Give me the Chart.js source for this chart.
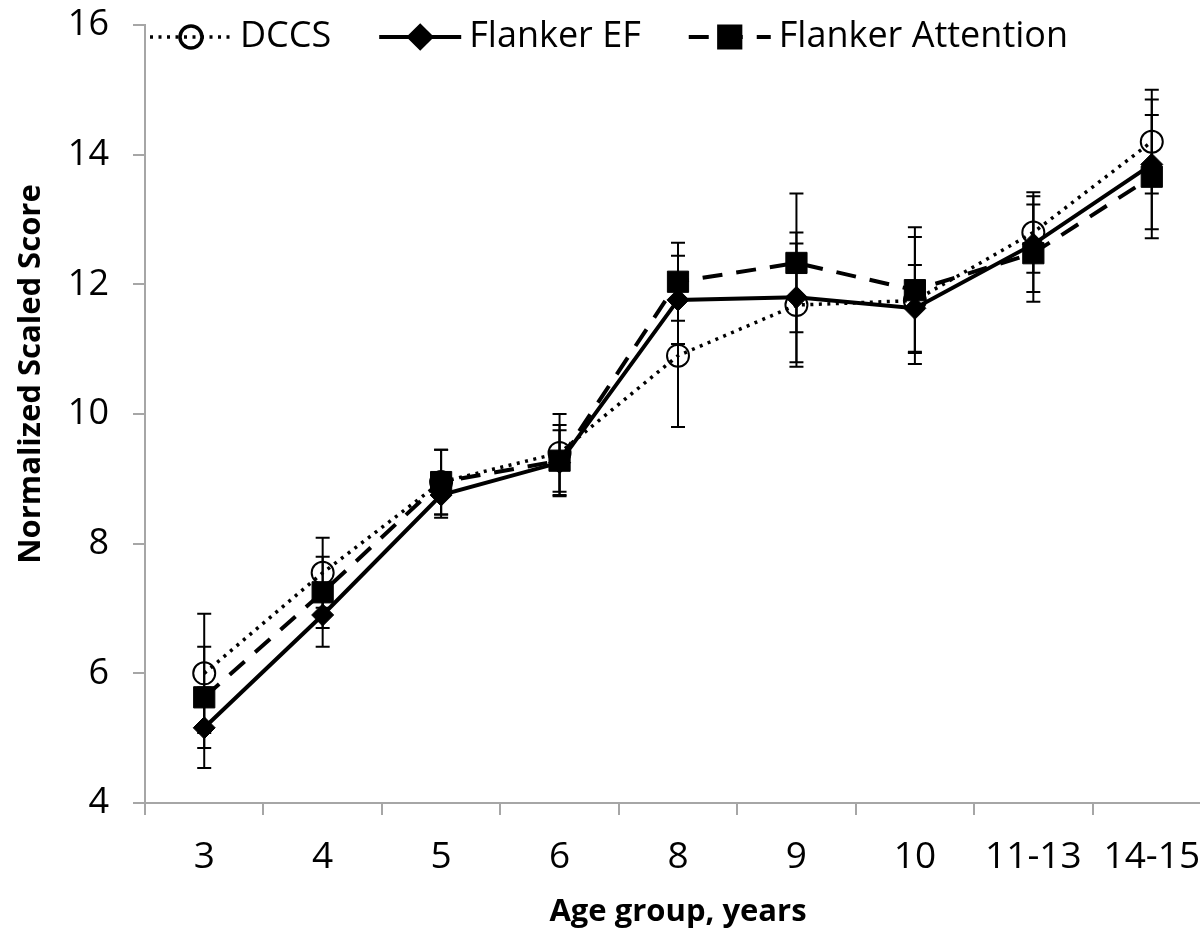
<!DOCTYPE html>
<html>
<head>
<meta charset="utf-8">
<script src="https://cdn.jsdelivr.net/npm/chart.js@4.4.1/dist/chart.umd.min.js"></script>
<style>
  html, body { margin: 0; padding: 0; background: #fff; overflow: hidden; }
  #wrap { position: relative; width: 1200px; height: 939px; }
</style>
</head>
<body>
<div id="wrap">
  <canvas id="myChart" width="1200" height="939"></canvas>
</div>
<script>
// data
const ageGroups = ['3', '4', '5', '6', '8', '9', '10', '11-13', '14-15'];

const dccs      = [6.0, 7.55, 8.95, 9.4, 10.9, 11.68, 11.75, 12.8, 14.2];
const dccsErr   = [0.92, 0.54, 0.5, 0.6, 1.1, 0.95, 0.98, 0.62, 0.8];

const flankerEF    = [5.16, 6.9, 8.75, 9.25, 11.76, 11.8, 11.63, 12.62, 13.85];
const flankerEFErr = [0.62, 0.49, 0.35, 0.5, 0.68, 1.0, 0.67, 0.74, 1.0];

const flankerAtt    = [5.63, 7.25, 8.95, 9.28, 12.04, 12.33, 11.91, 12.48, 13.66];
const flankerAttErr = [0.78, 0.55, 0.5, 0.55, 0.6, 1.07, 0.97, 0.75, 0.95];

const yMin = 4;
const yMax = 16;
const yStep = 2;

const axisGray = '#a6a6a6';
const font = "'Open Sans', sans-serif";

// the original plot is cut off on the right, so the x axis runs past the canvas edge
const plotRight = 1211;

const stretchX = {
  id: 'stretchX',
  afterLayout(chart) {
    const x = chart.scales.x;
    x.right = plotRight;
    x.width = x.right - x.left;
    x.configure();
    chart.chartArea.right = plotRight;
    chart.chartArea.width = plotRight - chart.chartArea.left;
  }
};

// vertical error bars, drawn under the markers
const errorBars = {
  id: 'errorBars',
  beforeDatasetsDraw(chart) {
    const ctx = chart.ctx;
    const yScale = chart.scales.y;
    chart.data.datasets.forEach((ds, i) => {
      const meta = chart.getDatasetMeta(i);
      ctx.save();
      ctx.strokeStyle = '#000';
      ctx.lineWidth = 2;
      meta.data.forEach((pt, j) => {
        const top = yScale.getPixelForValue(ds.data[j] + ds.errors[j]);
        const bot = yScale.getPixelForValue(ds.data[j] - ds.errors[j]);
        ctx.beginPath();
        ctx.moveTo(pt.x, top);
        ctx.lineTo(pt.x, bot);
        ctx.moveTo(pt.x - 7, top);
        ctx.lineTo(pt.x + 7, top);
        ctx.moveTo(pt.x - 7, bot);
        ctx.lineTo(pt.x + 7, bot);
        ctx.stroke();
      });
      ctx.restore();
    });
  }
};

// legend inside the plot, line sample + marker like excel
const lineLegend = {
  id: 'lineLegend',
  afterDraw(chart) {
    const ctx = chart.ctx;
    const y = 37;
    let x = 150;
    const sampleW = 82;
    ctx.save();
    ctx.font = '36px ' + font;
    ctx.textBaseline = 'middle';
    chart.data.datasets.forEach((ds) => {
      ctx.save();
      ctx.strokeStyle = ds.borderColor;
      ctx.lineWidth = ds.borderWidth;
      ctx.setLineDash(ds.borderDash || []);
      ctx.beginPath();
      ctx.moveTo(x, y);
      ctx.lineTo(x + sampleW, y);
      ctx.stroke();
      ctx.setLineDash([]);
      ctx.fillStyle = ds.pointBackgroundColor;
      ctx.strokeStyle = ds.pointBorderColor;
      Chart.helpers.drawPoint(ctx, {
        pointStyle: ds.pointStyle,
        radius: ds.pointRadius,
        borderWidth: ds.pointBorderWidth,
        rotation: 0
      }, x + sampleW / 2, y);
      ctx.restore();
      ctx.fillStyle = '#000';
      ctx.fillText(ds.label, x + sampleW + 8, y);
      x += sampleW + 8 + ctx.measureText(ds.label).width + 48;
    });
    ctx.restore();
  }
};

// y title sits a bit above the axis middle in the original
const yTitle = {
  id: 'yTitle',
  afterDraw(chart) {
    const ctx = chart.ctx;
    ctx.save();
    ctx.translate(31, 374);
    ctx.rotate(-Math.PI / 2);
    ctx.font = 'bold 31px ' + font;
    ctx.fillStyle = '#000';
    ctx.textAlign = 'center';
    ctx.textBaseline = 'middle';
    ctx.fillText('Normalized Scaled Score', 0, 0);
    ctx.restore();
  }
};

const ctx = document.getElementById('myChart').getContext('2d');

new Chart(ctx, {
  type: 'line',
  data: {
    labels: ageGroups,
    datasets: [
      {
        label: 'DCCS',
        data: dccs,
        errors: dccsErr,
        borderColor: '#000',
        borderWidth: 3.5,
        borderDash: [3, 5.5],
        pointStyle: 'circle',
        pointRadius: 11,
        pointBorderWidth: 2,
        pointBackgroundColor: 'rgba(0,0,0,0)',
        pointBorderColor: '#000',
        order: 3
      },
      {
        label: 'Flanker EF',
        data: flankerEF,
        errors: flankerEFErr,
        borderColor: '#000',
        borderWidth: 4,
        pointStyle: 'rectRot',
        pointRadius: 11,
        pointBorderWidth: 1,
        pointBackgroundColor: '#000',
        pointBorderColor: '#000',
        order: 2
      },
      {
        label: 'Flanker Attention',
        data: flankerAtt,
        errors: flankerAttErr,
        borderColor: '#000',
        borderWidth: 4,
        borderDash: [20, 14],
        pointStyle: 'rect',
        pointRadius: 15,
        pointBorderWidth: 1,
        pointBackgroundColor: '#000',
        pointBorderColor: '#000',
        order: 1
      }
    ]
  },
  options: {
    responsive: false,
    animation: false,
    devicePixelRatio: 1,
    layout: { padding: { top: 25, right: 0, left: 0, bottom: 0 } },
    plugins: {
      legend: { display: false },
      tooltip: { enabled: false }
    },
    scales: {
      x: {
        type: 'category',
        offset: true,
        grid: {
          offset: true,
          drawOnChartArea: false,
          tickLength: 12,
          color: axisGray,
          lineWidth: 2
        },
        border: { color: axisGray, width: 2 },
        ticks: {
          color: '#000',
          font: { family: font, size: 37 },
          padding: 20,
          maxRotation: 0,
          autoSkip: false
        },
        title: {
          display: true,
          text: 'Age group, years',
          color: '#000',
          font: { family: font, size: 31, weight: 'bold' },
          padding: { top: 14, bottom: 8 }
        },
        afterFit(scale) {
          scale.height = 136;
          scale.paddingLeft = 0;
          scale.paddingRight = 0;
        }
      },
      y: {
        min: yMin,
        max: yMax,
        grid: {
          drawOnChartArea: false,
          tickLength: 12,
          color: axisGray,
          lineWidth: 2
        },
        border: { color: axisGray, width: 2 },
        ticks: {
          stepSize: yStep,
          color: '#000',
          font: { family: font, size: 36 },
          padding: 24
        },
        afterFit(scale) {
          scale.width = 145;
          scale.paddingTop = 0;
          scale.paddingBottom = 0;
        }
      }
    }
  },
  plugins: [stretchX, errorBars, lineLegend, yTitle]
});
</script>
</body>
</html>
